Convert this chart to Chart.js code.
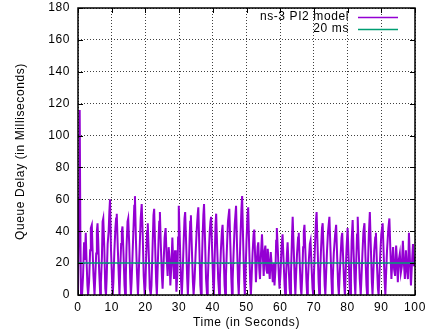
<!DOCTYPE html>
<html lang="en-US">
  <head>
    <meta charset="utf-8" />
    <title>Queue delay, ns-3 PI2 model</title>
    <script src="https://cdn.jsdelivr.net/npm/chart.js@4.4.0/dist/chart.umd.min.js"></script>
  </head>
  <body>
    <div class="box">
      <canvas id="chart" width="432" height="332"></canvas>
    </div>
  </body>

  <style>
    body{
      margin: 0;
      background: #fff;
    }
    .box{
      width: 432px;
      height: 332px;
    }
  </style>

  <script>
    // x ticks and y ticks, as on the original plot
    const xTicks = [0, 10, 20, 30, 40, 50, 60, 70, 80, 90, 100];
    const yTicks = [0, 20, 40, 60, 80, 100, 120, 140, 160, 180];

    const seriesNames = ["ns-3 PI2 model", "20 ms"];

    // sample times (seconds), one line per oscillation
    const timeSec = [
      0.0, 0.3, 0.5, 0.7, 0.9, 1.2,
      1.5, 1.8, 2.0, 2.3, 2.5, 2.8, 3.0,
      3.3, 3.6, 3.8, 4.1, 4.3, 4.6, 4.9,
      5.1, 5.4, 5.6, 5.8, 6.0, 6.3, 6.6,
      6.8, 7.1, 7.3, 7.5, 7.8, 8.1, 8.3,
      8.5, 8.8, 9.1, 9.3, 9.5, 9.8, 10.1, 10.3,
      10.5, 10.8, 11.1, 11.3, 11.5, 11.8, 12.1, 12.3,
      12.5, 12.8, 13.0, 13.2, 13.5, 13.8, 14.0,
      14.2, 14.4, 14.7, 14.9, 15.2, 15.5, 15.7,
      15.9, 16.2, 16.5, 16.7, 16.9, 17.2, 17.5, 17.8,
      18.0, 18.3, 18.6, 18.9, 19.2, 19.5, 19.8,
      20.0, 20.2, 20.5, 20.7, 21.0, 21.3, 21.6,
      21.8, 22.1, 22.4, 22.6, 22.9, 23.2, 23.4,
      23.6, 23.9, 24.1, 24.3, 24.6, 24.9, 25.1,
      25.4, 25.7, 26.0, 26.3, 26.6, 26.9, 27.2, 27.4,
      27.7, 28.0, 28.2, 28.5, 28.8, 29.0, 29.2,
      29.5, 29.7, 29.9, 30.2, 30.5, 30.8,
      31.0, 31.3, 31.6, 31.8, 32.1, 32.4, 32.6,
      32.8, 33.1, 33.3, 33.5, 33.8, 34.1, 34.3,
      34.6, 34.9, 35.2, 35.5, 35.7, 36.0, 36.3, 36.5,
      36.7, 37.0, 37.2, 37.4, 37.7, 38.0, 38.3,
      38.5, 38.8, 39.1, 39.3, 39.5, 39.8, 40.1, 40.3,
      40.5, 40.8, 41.0, 41.3, 41.6, 41.9,
      42.1, 42.4, 42.7, 42.9, 43.2, 43.5, 43.7,
      43.9, 44.2, 44.5, 44.9, 45.2, 45.5, 45.7,
      45.9, 46.2, 46.5, 46.9, 47.2, 47.5, 47.7,
      47.9, 48.2, 48.5, 48.7, 49.0, 49.3, 49.5,
      49.7, 50.0, 50.3, 50.5, 50.8, 51.1, 51.3,
      51.5, 51.8, 52.1, 52.3, 52.6, 52.8,
      53.0, 53.3, 53.5, 53.8, 54.0, 54.3, 54.6, 54.9,
      55.1, 55.4, 55.6, 55.9, 56.1, 56.3, 56.6, 56.9,
      57.2, 57.5, 57.8, 58.1, 58.3,
      58.6, 58.8, 59.0, 59.3, 59.6, 59.8,
      60.1, 60.4, 60.7, 61.0, 61.3, 61.5,
      61.7, 62.0, 62.2, 62.5, 62.8, 63.0,
      63.2, 63.5, 63.7, 64.0, 64.3, 64.5,
      64.7, 65.0, 65.3, 65.5, 65.8, 66.1, 66.3,
      66.5, 66.8, 67.0, 67.2, 67.5, 67.8, 68.0,
      68.2, 68.5, 68.8, 69.0, 69.3, 69.6, 69.8,
      70.0, 70.3, 70.6, 70.8, 71.1, 71.4, 71.6,
      71.8, 72.1, 72.4, 72.6, 72.9, 73.2, 73.4,
      73.6, 73.9, 74.2, 74.6, 74.9, 75.2, 75.4,
      75.6, 75.9, 76.3, 76.6, 76.9, 77.2, 77.4,
      77.6, 77.9, 78.2, 78.4, 78.7, 79.0, 79.2,
      79.4, 79.7, 80.0, 80.3, 80.6, 80.8,
      81.0, 81.2, 81.5, 81.8, 82.1, 82.3,
      82.5, 82.8, 83.0, 83.3, 83.6, 83.9,
      84.1, 84.4, 84.7, 85.0, 85.3, 85.6, 85.8,
      86.0, 86.3, 86.6, 86.9, 87.2, 87.4,
      87.6, 87.9, 88.2, 88.4, 88.7, 89.0, 89.2,
      89.4, 89.7, 90.0, 90.4, 90.7, 91.0, 91.2,
      91.4, 91.7, 92.1, 92.4, 92.7, 93.0,
      93.2, 93.5, 93.8, 94.1, 94.4, 94.7, 94.9,
      95.2, 95.5, 95.8, 96.1, 96.4, 96.7, 97.0,
      97.3, 97.6, 97.9, 98.2, 98.5, 98.8,
      99.1, 99.4, 99.7, 100.0
    ];

    // queue delay (ms) at those times, same line layout as above
    const queueDelayMs = [
      0, 60, 116, 40, 0, 0,
      12, 33, 22, 39, 24, 6, 0,
      9, 28, 42, 44, 30, 12, 0,
      10, 26, 40, 45, 34, 14, 0,
      8, 24, 46, 48, 30, 4, 0,
      10, 32, 40, 52, 60, 28, 10, 0,
      8, 28, 42, 48, 51, 30, 12, 0,
      14, 32, 40, 43, 26, 6, 0,
      12, 30, 46, 48, 32, 10, 0,
      8, 26, 44, 56, 62, 34, 14, 0,
      12, 30, 48, 57, 38, 12, 0,
      6, 22, 40, 45, 26, 4, 0,
      6, 28, 50, 54, 30, 8, 0,
      14, 34, 46, 52, 30, 12, 4,
      20, 36, 42, 24, 12, 30, 22, 6,
      18, 36, 24, 10, 28, 20, 2,
      14, 36, 56, 36, 12, 0,
      10, 30, 48, 52, 32, 10, 0,
      12, 34, 46, 50, 28, 8, 0,
      10, 26, 40, 50, 55, 30, 6, 0,
      16, 38, 50, 57, 34, 10, 0,
      8, 26, 40, 46, 49, 28, 8, 0,
      18, 44, 51, 30, 10, 0,
      10, 28, 40, 44, 26, 6, 0,
      12, 30, 46, 54, 32, 10, 0,
      10, 28, 44, 56, 30, 8, 0,
      14, 36, 54, 62, 34, 10, 0,
      12, 34, 50, 55, 30, 8, 0,
      10, 26, 38, 41, 22, 8,
      18, 30, 33, 16, 10, 26, 38, 22,
      12, 28, 31, 16, 14, 29, 20, 10,
      27, 18, 8, 20, 6,
      16, 34, 42, 28, 12, 4,
      14, 30, 38, 22, 6, 0,
      10, 26, 33, 18, 4, 0,
      14, 36, 49, 30, 10, 0,
      12, 26, 36, 39, 20, 4, 0,
      10, 30, 40, 44, 26, 8, 0,
      8, 22, 32, 34, 18, 4, 0,
      12, 30, 46, 52, 30, 8, 0,
      10, 28, 42, 45, 26, 6, 0,
      12, 28, 40, 49, 30, 10, 0,
      10, 26, 38, 44, 24, 6, 0,
      10, 24, 36, 39, 22, 6, 0,
      12, 30, 42, 24, 6, 0,
      14, 34, 47, 26, 8, 0,
      16, 38, 49, 28, 10, 0,
      10, 26, 40, 45, 24, 6, 0,
      16, 38, 52, 30, 8, 0,
      12, 28, 36, 39, 20, 4, 0,
      10, 26, 38, 45, 26, 8, 0,
      12, 28, 42, 48, 28, 10,
      18, 30, 16, 12, 31, 20, 8,
      22, 26, 14, 18, 34, 20, 10,
      28, 16, 10, 39, 22, 6,
      20, 32, 18, 24
    ];

    // the 20 ms reference line
    const refTimeSec = [0, 100];
    const refDelayMs = [20, 20];

    const PURPLE = "#9400d3";
    const GREEN = "#009e73";
    const FONT = "'Liberation Sans', Arial, sans-serif";

    // gnuplot-like frame, inward tick marks and the legend in the top right
    const framePlugin = {
      id: "frame",
      beforeDraw(chart) {
        const ctx = chart.ctx;
        ctx.save();
        ctx.fillStyle = "#fff";
        ctx.fillRect(0, 0, chart.width, chart.height);
        ctx.restore();
        chart.ctx.letterSpacing = "0.6px";
      },
      afterDraw(chart) {
        const ctx = chart.ctx;
        const a = chart.chartArea;
        const xs = chart.scales.x;
        const ys = chart.scales.y;
        ctx.save();
        ctx.strokeStyle = "#000";
        ctx.lineWidth = 1;
        ctx.beginPath();
        xTicks.forEach((t) => {
          const px = Math.round(xs.getPixelForValue(t)) + 0.5;
          ctx.moveTo(px, a.bottom); ctx.lineTo(px, a.bottom - 5);
          ctx.moveTo(px, a.top); ctx.lineTo(px, a.top + 5);
        });
        yTicks.forEach((v) => {
          const py = Math.round(ys.getPixelForValue(v)) + 0.5;
          ctx.moveTo(a.left, py); ctx.lineTo(a.left + 5, py);
          ctx.moveTo(a.right, py); ctx.lineTo(a.right - 5, py);
        });
        ctx.stroke();
        ctx.lineWidth = 1.5;
        ctx.strokeRect(a.left, a.top, a.right - a.left, a.bottom - a.top);

        // legend
        ctx.font = "12px " + FONT;
        ctx.fillStyle = "#000";
        ctx.textAlign = "right";
        ctx.textBaseline = "middle";
        const rows = [[seriesNames[0], PURPLE, 17], [seriesNames[1], GREEN, 29]];
        rows.forEach(([label, color, y]) => {
          ctx.fillText(label, 349, y);
          ctx.strokeStyle = color;
          ctx.lineWidth = 1.3;
          ctx.beginPath();
          ctx.moveTo(358, y + 0.5);
          ctx.lineTo(398, y + 0.5);
          ctx.stroke();
        });
        ctx.restore();
      }
    };

    const pi2Points = timeSec.map((t, i) => ({ x: t, y: queueDelayMs[i] }));
    const refPoints = refTimeSec.map((t, i) => ({ x: t, y: refDelayMs[i] }));

    new Chart(document.getElementById("chart"), {
      type: "line",
      data: {
        datasets: [
          {
            label: seriesNames[0],
            data: pi2Points,
            borderColor: PURPLE,
            borderWidth: 2,
            pointRadius: 0,
            tension: 0,
            order: 1
          },
          {
            label: seriesNames[1],
            data: refPoints,
            borderColor: GREEN,
            borderWidth: 1.5,
            pointRadius: 0,
            order: 0
          }
        ]
      },
      options: {
        responsive: false,
        animation: false,
        layout: { padding: { top: 8, right: 17, bottom: 0, left: 0 } },
        plugins: {
          legend: { display: false },
          tooltip: { enabled: false }
        },
        scales: {
          x: {
            type: "linear",
            min: 0,
            max: 100,
            afterBuildTicks: (s) => { s.ticks = xTicks.map((v) => ({ value: v })); },
            afterFit: (s) => {
              s.height = 37;
              s.paddingLeft = 0;
              s.paddingRight = 0;
            },
            grid: { color: "rgba(0,0,0,0.75)", lineWidth: 1, drawTicks: false },
            border: { display: false, dash: [1, 2] },
            ticks: { color: "#000", padding: 5, maxRotation: 0, font: { family: FONT, size: 12 } },
            title: {
              display: true,
              text: "Time (in Seconds)",
              color: "#000",
              padding: { top: 0, bottom: 2 },
              font: { family: FONT, size: 12 }
            }
          },
          y: {
            min: 0,
            max: 180,
            afterBuildTicks: (s) => { s.ticks = yTicks.map((v) => ({ value: v })); },
            afterFit: (s) => {
              s.width = 78;
              s.paddingTop = 0;
              s.paddingBottom = 0;
            },
            grid: { color: "rgba(0,0,0,0.75)", lineWidth: 1, drawTicks: false },
            border: { display: false, dash: [1, 2] },
            ticks: { color: "#000", padding: 8, font: { family: FONT, size: 12 } },
            title: {
              display: true,
              text: "Queue Delay (in Milliseconds)",
              color: "#000",
              padding: { top: 13, bottom: 0 },
              font: { family: FONT, size: 12 }
            }
          }
        }
      },
      plugins: [framePlugin]
    });
  </script>
</html>
